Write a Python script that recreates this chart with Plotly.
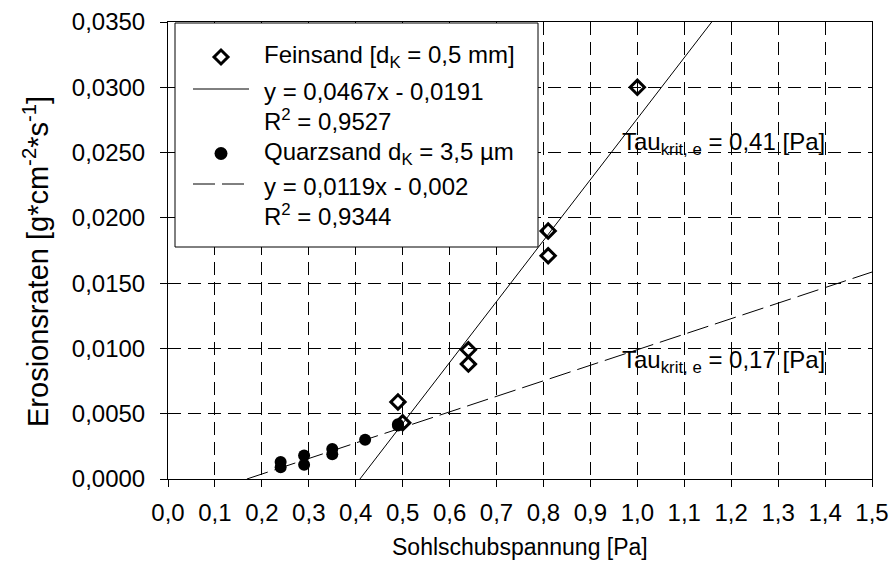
import plotly.graph_objects as go

# ---------------- data ----------------
tau_fein = [0.49, 0.50, 0.64, 0.64, 0.81, 0.81, 1.00]
ero_fein = [0.0059, 0.0043, 0.0099, 0.0088, 0.0190, 0.0171, 0.0300]

tau_quarz = [0.24, 0.24, 0.29, 0.29, 0.35, 0.35, 0.42, 0.49, 0.49]
ero_quarz = [0.0013, 0.0009, 0.0018, 0.0011, 0.0023, 0.0019, 0.0030, 0.0041, 0.0042]

series_names = ["Feinsand [d<sub>K</sub> = 0,5 mm]", "Quarzsand d<sub>K</sub> = 3,5 µm"]
slopes = [0.0467, 0.0119]
intercepts = [-0.0191, -0.002]
r_squared = [0.9527, 0.9344]
tau_krit = [0.41, 0.17]

x_ticks = [round(i * 0.1, 1) for i in range(16)]
y_ticks = [round(i * 0.005, 3) for i in range(8)]

# ---------------- layout constants ----------------
W, H = 892, 569
ML, MR, MT, MB = 168, 20, 22, 90
X_RANGE = [0, 1.5]
Y_RANGE = [0, 0.035]
FONT = "Liberation Sans, Arial, sans-serif"
FS = 24


def pxx(x):
    return (x - ML) / (W - ML - MR)


def pxy(y):
    return (H - MB - y) / (H - MT - MB)


def de(v, fmt):
    return format(v, fmt).replace(".", ",")


def coef(v):
    s = f"{abs(v):.4f}".rstrip("0")
    return s.replace(".", ",")


fig = go.Figure()

# Feinsand markers
fig.add_trace(go.Scatter(
    x=tau_fein, y=ero_fein, mode="markers",
    marker=dict(symbol="diamond-open", size=11, color="black",
                line=dict(width=3, color="black")),
    showlegend=False))

# trend lines + Quarzsand markers
dashes = ["solid", "22px,7px"]
for i in range(2):
    x0 = -intercepts[i] / slopes[i]
    xs = [x0, X_RANGE[1]]
    ys = [slopes[i] * x + intercepts[i] for x in xs]
    fig.add_trace(go.Scatter(
        x=xs, y=ys, mode="lines",
        line=dict(color="black", width=1, dash=dashes[i]),
        showlegend=False))
    if i == 0:
        fig.add_trace(go.Scatter(
            x=tau_quarz, y=ero_quarz, mode="markers",
            marker=dict(symbol="circle", size=12, color="black",
                        line=dict(width=0)),
            showlegend=False))

axis_common = dict(
    showline=True, linecolor="black", linewidth=1, mirror=True,
    ticks="outside", ticklen=7, tickcolor="black", tickwidth=1,
    showgrid=True, gridcolor="black", gridwidth=1, griddash="13px,7px",
    zeroline=False, automargin=False,
    tickfont=dict(family=FONT, size=FS, color="black"),
)

fig.update_xaxes(range=X_RANGE, tickvals=x_ticks, tickformat=".1f",
                 ticklabelstandoff=5, **axis_common)
fig.update_yaxes(range=Y_RANGE, tickvals=y_ticks, tickformat=".4f",
                 ticklabelstandoff=10, **axis_common)

shapes = []
annotations = []

# legend box
shapes.append(dict(type="rect", xref="paper", yref="paper",
                   x0=pxx(175), x1=pxx(538), y0=pxy(247), y1=pxy(23),
                   line=dict(color="black", width=1), fillcolor="white",
                   layer="above"))
# legend symbols
cx, r = 221, 7
cy = 57
shapes.append(dict(type="path", xref="paper", yref="paper",
                   path=f"M {pxx(cx - r)},{pxy(cy)} L {pxx(cx)},{pxy(cy - r)} "
                        f"L {pxx(cx + r)},{pxy(cy)} L {pxx(cx)},{pxy(cy + r)} Z",
                   line=dict(color="black", width=3), layer="above"))
shapes.append(dict(type="line", xref="paper", yref="paper",
                   x0=pxx(193), x1=pxx(249), y0=pxy(89), y1=pxy(89),
                   line=dict(color="black", width=1), layer="above"))
shapes.append(dict(type="circle", xref="paper", yref="paper",
                   x0=pxx(221 - 6.5), x1=pxx(221 + 6.5),
                   y0=pxy(153.5 + 6.5), y1=pxy(153.5 - 6.5),
                   line=dict(color="black", width=0), fillcolor="black",
                   layer="above"))
shapes.append(dict(type="line", xref="paper", yref="paper",
                   x0=pxx(193), x1=pxx(250), y0=pxy(184), y1=pxy(184),
                   line=dict(color="black", width=1, dash="22px,7px"),
                   layer="above"))

legend_lines = []
for i in range(2):
    legend_lines.append(series_names[i])
    sign = "-" if intercepts[i] < 0 else "+"
    legend_lines.append(f"y = {coef(slopes[i])}x {sign} {coef(intercepts[i])}")
    legend_lines.append(f"R<sup>2</sup> = {de(r_squared[i], '.4f')}")
legend_y = [57, 91, 120, 154, 186, 215]
for txt, yy in zip(legend_lines, legend_y):
    annotations.append(dict(
        text=txt, xref="paper", yref="paper", x=pxx(262), y=pxy(yy),
        xanchor="left", yanchor="middle", showarrow=False,
        font=dict(family=FONT, size=FS, color="black")))

# Tau_krit labels
tau_pos_y = [0.02566, 0.0090]
for t, yy in zip(tau_krit, tau_pos_y):
    annotations.append(dict(
        text=f"Tau<sub>krit, e</sub> = {de(t, '.2f')} [Pa]",
        x=0.963, y=yy, xref="x", yref="y", xanchor="left", yanchor="middle",
        showarrow=False, font=dict(family=FONT, size=FS, color="black")))

# axis titles
annotations.append(dict(
    text="Sohlschubspannung [Pa]", xref="paper", yref="paper",
    x=0.5, y=pxy(547), xanchor="center", yanchor="middle", showarrow=False,
    font=dict(family=FONT, size=23, color="black")))
annotations.append(dict(
    text="Erosionsraten [g*cm<sup>-2</sup>*s<sup>-1</sup>]", xref="paper", yref="paper",
    x=pxx(36), y=pxy(262), xanchor="center", yanchor="middle", showarrow=False,
    textangle=-90, font=dict(family=FONT, size=29, color="black")))

fig.update_layout(
    width=W, height=H,
    margin=dict(l=ML, r=MR, t=MT, b=MB, pad=0),
    paper_bgcolor="white", plot_bgcolor="white",
    separators=",.",
    showlegend=False,
    shapes=shapes, annotations=annotations,
    font=dict(family=FONT, size=FS, color="black"),
)

fig.write_html("out.html")
